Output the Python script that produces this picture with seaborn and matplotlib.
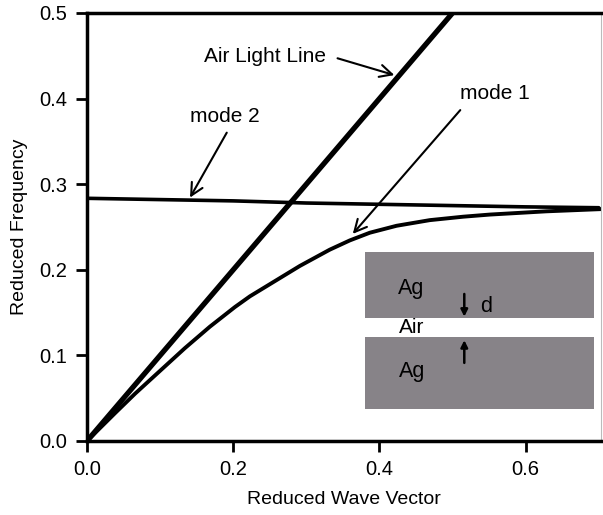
"""
Dispersion of surface plasmon modes in an Ag/Air/Ag gap
"""

import pandas as pd
import matplotlib
matplotlib.use("Agg")
import matplotlib.pyplot as plt
import seaborn as sns
from matplotlib.patches import Rectangle

# data
light_k = [0.0, 0.51]
light_f = [0.0, 0.51]

mode1_k = [0.0, 0.0383, 0.0656, 0.1339, 0.168, 0.2023, 0.2228, 0.2911,
           0.332, 0.3594, 0.3868, 0.4233, 0.4688, 0.5143, 0.5508, 0.6283,
           0.7034]
mode1_f = [0.0, 0.0325, 0.0552, 0.1085, 0.1335, 0.1565, 0.169, 0.2045,
           0.2235, 0.2343, 0.2433, 0.2514, 0.258, 0.262, 0.2645, 0.2683,
           0.2709]

mode2_k = [0.0, 0.1, 0.2, 0.3, 0.4, 0.5, 0.6, 0.7]
mode2_f = [0.2835, 0.282, 0.2805, 0.278, 0.2765, 0.275, 0.2735, 0.2725]

x_ticks = [0.0, 0.2, 0.4, 0.6]
y_ticks = [0.0, 0.1, 0.2, 0.3, 0.4, 0.5]

sns.set_style("ticks")
plt.rcParams['font.family'] = ['Liberation Sans', 'DejaVu Sans']
plt.rcParams['text.color'] = 'black'
plt.rcParams['axes.labelcolor'] = 'black'

fig = plt.figure(figsize=(6.03, 5.15), dpi=100)
ax = fig.add_axes([0.1443, 0.1437, 0.8524, 0.8311])

df_light = pd.DataFrame({'k': light_k, 'f': light_f})
df_m1 = pd.DataFrame({'k': mode1_k, 'f': mode1_f})
df_m2 = pd.DataFrame({'k': mode2_k, 'f': mode2_f})

sns.lineplot(data=df_light, x='k', y='f', ax=ax, color='black', lw=3.8,
             sort=False, estimator=None)
sns.lineplot(data=df_m2, x='k', y='f', ax=ax, color='black', lw=2.6,
             sort=False, estimator=None)
sns.lineplot(data=df_m1, x='k', y='f', ax=ax, color='black', lw=2.8,
             sort=False, estimator=None)

ax.set_xlim(0, 0.703)
ax.set_ylim(0, 0.5)
ax.set_xticks(x_ticks)
ax.set_yticks(y_ticks)
ax.set_xticklabels([f"{v:.1f}" for v in x_ticks])
ax.set_yticklabels([f"{v:.1f}" for v in y_ticks])
ax.tick_params(direction='out', length=8, width=2, labelsize=14.5, pad=6,
               color='black', labelcolor='black')
ax.set_xlabel('Reduced Wave Vector', fontsize=14, labelpad=8)
ax.set_ylabel('Reduced Frequency', fontsize=14, labelpad=8)

for side in ['left', 'bottom', 'top']:
    ax.spines[side].set_linewidth(2.5)
    ax.spines[side].set_color('black')
ax.spines['right'].set_linewidth(0.8)
ax.spines['right'].set_color('#bbbbbb')

# inset: Ag / Air / Ag gap
gray = '#878388'
ax.add_patch(Rectangle((0.38, 0.1437), 0.313, 0.0771, color=gray, lw=0, zorder=3))
ax.add_patch(Rectangle((0.38, 0.0374), 0.313, 0.0841, color=gray, lw=0, zorder=3))
ax.text(0.443, 0.178, 'Ag', fontsize=15.5, ha='center', va='center', zorder=4)
ax.text(0.445, 0.081, 'Ag', fontsize=15.5, ha='center', va='center', zorder=4)
ax.text(0.444, 0.132, 'Air', fontsize=15, ha='center', va='center', zorder=4)
ax.text(0.546, 0.157, 'd', fontsize=15.5, ha='center', va='center', zorder=4)
ax.annotate('', xy=(0.516, 0.142), xytext=(0.516, 0.175), zorder=4,
            arrowprops=dict(arrowstyle='-|>', color='black', lw=1.8,
                            mutation_scale=10))
ax.annotate('', xy=(0.516, 0.121), xytext=(0.516, 0.088), zorder=4,
            arrowprops=dict(arrowstyle='-|>', color='black', lw=1.8,
                            mutation_scale=10))

# labels with arrows
arrow = dict(arrowstyle='->', color='black', lw=1.5, mutation_scale=22)
ax.annotate('', xy=(0.424, 0.4265), xytext=(0.339, 0.448), arrowprops=arrow)
ax.text(0.243, 0.449, 'Air Light Line', fontsize=15, ha='center', va='center')
ax.annotate('', xy=(0.139, 0.2815), xytext=(0.193, 0.363), arrowprops=arrow)
ax.text(0.189, 0.379, 'mode 2', fontsize=15, ha='center', va='center')
ax.annotate('', xy=(0.361, 0.2395), xytext=(0.513, 0.389), arrowprops=arrow)
ax.text(0.558, 0.406, 'mode 1', fontsize=15, ha='center', va='center')

fig.savefig('out.png', dpi=100)
